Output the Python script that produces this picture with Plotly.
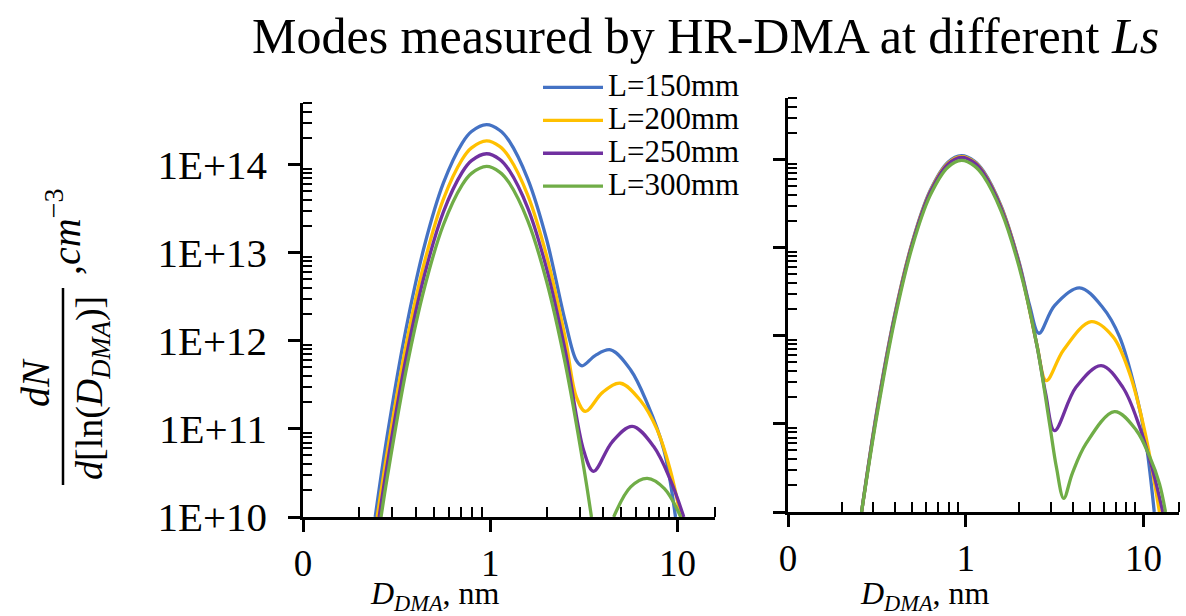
import plotly.graph_objects as go

W, H = 1186, 616

names = ["L=150mm", "L=200mm", "L=250mm", "L=300mm"]
colors = ["#4472C4", "#FFC000", "#7030A0", "#70AD47"]

# ---- left panel data (D_DMA in nm, dN/dlnD in cm^-3) ----
left_x_150 = [0.243, 0.282, 0.355, 0.447, 0.562, 0.708, 0.794, 0.955, 1.122, 1.259, 1.585, 1.995, 2.512, 2.88, 3.09, 3.63, 4.39, 5.61, 6.89, 8.45, 9.75]
left_y_150 = [1e10, 8.5e10, 1.37e12, 1.24e13, 6.2e13, 1.76e14, 2.38e14, 2.85e14, 2.46e14, 1.87e14, 6.9e13, 1.44e13, 1.67e12, 6.0e11, 5.2e11, 6.8e11, 7.9e11, 4.7e11, 1.95e11, 5.8e10, 1e10]
left_x_200 = [0.249, 0.282, 0.355, 0.447, 0.562, 0.708, 0.794, 0.955, 1.122, 1.259, 1.585, 1.995, 2.512, 2.884, 3.22, 3.98, 4.95, 6.34, 7.78, 9.12, 10.4]
left_y_200 = [1e10, 5.5e10, 8.9e11, 8.05e12, 4.07e13, 1.15e14, 1.55e14, 1.86e14, 1.61e14, 1.22e14, 4.52e13, 9.4e12, 1.09e12, 2.3e11, 1.58e11, 2.6e11, 3.3e11, 2.1e11, 9.8e10, 3.5e10, 1e10]
left_x_250 = [0.255, 0.282, 0.355, 0.447, 0.562, 0.708, 0.794, 0.955, 1.122, 1.259, 1.585, 1.995, 2.512, 3.16, 3.56, 4.47, 5.73, 7.46, 9.18, 10.8]
left_y_250 = [1e10, 4.0e10, 6.4e11, 5.77e12, 2.91e13, 8.2e13, 1.11e14, 1.33e14, 1.15e14, 8.7e13, 3.24e13, 6.7e12, 7.8e11, 5.6e10, 3.3e10, 7.1e10, 1.07e11, 6.3e10, 2.6e10, 1e10]
left_x_300 = [0.261, 0.282, 0.355, 0.447, 0.562, 0.708, 0.794, 0.955, 1.122, 1.259, 1.585, 1.995, 2.512, 3.16, 3.47, None, 4.56, 5.62, 6.89, 8.51, 10.4]
left_y_300 = [1e10, 2.84e10, 4.58e11, 4.13e12, 2.08e13, 5.89e13, 7.96e13, 9.55e13, 8.24e13, 6.25e13, 2.32e13, 4.81e12, 5.58e11, 3.6e10, 1e10, None, 1e10, 2.2e10, 2.75e10, 2.1e10, 1e10]

# ---- right panel data ----
right_x_150 = [0.2594, 0.316, 0.398, 0.501, 0.631, 0.794, 0.946, 1.122, 1.259, 1.585, 1.995, 2.29, 2.58, 3.16, 4.37, 5.9, 7.33, 9.1, 10.35, 11.5]
right_y_150 = [1e10, 1.4e11, 1.72e12, 1.17e13, 4.46e13, 9.35e13, 1.11e14, 9.6e13, 7.4e13, 2.94e13, 6.9e12, 2.2e12, 1.07e12, 2.2e12, 3.5e12, 2.1e12, 9.8e11, 2.2e11, 6e10, 1e10]
right_x_200 = [0.2594, 0.316, 0.398, 0.501, 0.631, 0.794, 0.946, 1.122, 1.259, 1.585, 1.995, 2.512, 2.84, 3.55, 5.08, 6.73, 8.34, 10.14, 12.3]
right_y_200 = [1e10, 1.36e11, 1.68e12, 1.15e13, 4.36e13, 9.1e13, 1.08e14, 9.4e13, 7.2e13, 2.87e13, 6.7e12, 8.0e11, 3.1e11, 6.9e11, 1.45e12, 9.8e11, 3.8e11, 8.5e10, 1e10]
right_x_250 = [0.2594, 0.316, 0.398, 0.501, 0.631, 0.794, 0.946, 1.122, 1.259, 1.585, 1.995, 2.512, 2.818, 3.16, 4.17, 5.78, 7.66, 9.51, 11.27, 12.85]
right_y_250 = [1e10, 1.33e11, 1.64e12, 1.12e13, 4.26e13, 8.9e13, 1.06e14, 9.2e13, 7.05e13, 2.8e13, 6.6e12, 7.9e11, 2.2e11, 8.4e10, 2.6e11, 4.6e11, 2.6e11, 9.3e10, 3.0e10, 1e10]
right_x_300 = [0.2594, 0.316, 0.398, 0.501, 0.631, 0.794, 0.946, 1.122, 1.259, 1.585, 1.995, 2.512, 2.965, 3.24, 3.56, 3.98, 4.76, 6.87, 9.1, 10.81, 12.3, 13.3]
right_y_300 = [1e10, 1.23e11, 1.51e12, 1.04e13, 3.93e13, 8.2e13, 9.8e13, 8.45e13, 6.5e13, 2.59e13, 6.1e12, 7.9e11, 1.0e11, 3.2e10, 1.43e10, 2.75e10, 6.0e10, 1.38e11, 8.5e10, 4.3e10, 2.1e10, 1e10]

x_tick_vals = [0.1, 1, 10]
x_tick_text = ["0", "1", "10"]
x_minor_vals = [0.2, 0.3, 0.4, 0.5, 0.6, 0.7, 0.8, 0.9, 2, 3, 4, 5, 6, 7, 8, 9, 15.8]
y_tick_vals = [1e10, 1e11, 1e12, 1e13, 1e14]
y_tick_text = ["1E+10", "1E+11", "1E+12", "1E+13", "1E+14"]
y_minor_vals = [m * 10 ** k for k in range(10, 15) for m in range(2, 10) if m * 10 ** k <= 5e14]

left_x = [left_x_150, left_x_200, left_x_250, left_x_300]
left_y = [left_y_150, left_y_200, left_y_250, left_y_300]
right_x = [right_x_150, right_x_200, right_x_250, right_x_300]
right_y = [right_y_150, right_y_200, right_y_250, right_y_300]

SERIF = "Liberation Serif"

fig = go.Figure()
for i in range(4):
    fig.add_trace(go.Scatter(
        x=left_x[i], y=left_y[i], mode="lines",
        name='<span style="font-size:31px">' + names[i] + "</span>",
        line=dict(color=colors[i], width=3.3, shape="spline", smoothing=1.0),
        xaxis="x", yaxis="y", legendgroup=names[i], connectgaps=False,
    ))
for i in range(4):
    fig.add_trace(go.Scatter(
        x=right_x[i], y=right_y[i], mode="lines", name=names[i],
        line=dict(color=colors[i], width=3.3, shape="spline", smoothing=1.0),
        xaxis="x2", yaxis="y2", legendgroup=names[i], showlegend=False,
    ))

LX = [303 / W, 715 / W]
RX = [788 / W, 1179 / W]
LY = [1 - 517 / H, 1 - 103 / H]
RY = [1 - 512 / H, 1 - 98 / H]

def xax(domain, anchor, **kw):
    d = dict(
        type="log", range=[-1, 1.2], domain=domain, anchor=anchor, automargin=False,
        tickmode="array", tickvals=x_tick_vals, ticktext=x_tick_text,
        ticks="outside", ticklen=12, tickwidth=2.5, tickcolor="black",
        showline=True, linecolor="black", linewidth=2.5,
        showgrid=False, zeroline=False,
        tickfont=dict(family=SERIF, size=37, color="black"),
        ticklabelstandoff=0,
        minor=dict(tickmode="array", tickvals=x_minor_vals, ticks="inside",
                   ticklen=10, tickwidth=2, tickcolor="black", showgrid=False),
    )
    d.update(kw)
    return d

def yax(domain, anchor, labels, **kw):
    d = dict(
        type="log", range=[10, 14.70], domain=domain, anchor=anchor, automargin=False,
        tickmode="array", tickvals=y_tick_vals, ticktext=y_tick_text,
        showticklabels=labels,
        ticks="outside", ticklen=12, tickwidth=2.5, tickcolor="black",
        showline=True, linecolor="black", linewidth=2.5,
        showgrid=False, zeroline=False,
        tickfont=dict(family=SERIF, size=41, color="black"),
        ticklabelstandoff=13,
        minor=dict(tickmode="array", tickvals=y_minor_vals, ticks="inside",
                   ticklen=9, tickwidth=2, tickcolor="black", showgrid=False),
    )
    d.update(kw)
    return d

def x_inner(over, anchor, domain):
    return dict(type="log", range=[-1, 1.2], overlaying=over, anchor=anchor, domain=domain,
                automargin=False,
                tickmode="array", tickvals=x_tick_vals, ticks="inside", ticklen=12,
                tickwidth=2.5, tickcolor="black", showticklabels=False,
                showline=False, showgrid=False, zeroline=False)

def y_inner(over, anchor, domain):
    return dict(type="log", range=[10, 14.70], overlaying=over, anchor=anchor, domain=domain,
                automargin=False,
                tickmode="array", tickvals=y_tick_vals, ticks="inside", ticklen=12,
                tickwidth=2.5, tickcolor="black", showticklabels=False,
                showline=False, showgrid=False, zeroline=False)

fig.update_layout(
    width=W, height=H, autosize=False,
    margin=dict(l=0, r=0, t=0, b=0, pad=0, autoexpand=False),
    paper_bgcolor="white", plot_bgcolor="white",
    font=dict(family=SERIF, color="black"),
    xaxis=xax(LX, "y"),
    yaxis=yax(LY, "x", True),
    xaxis2=xax(RX, "y2"),
    yaxis2=yax(RY, "x2", False),
    xaxis3=x_inner("x", "y", LX),
    yaxis3=y_inner("y", "x", LY),
    xaxis4=x_inner("x2", "y2", RX),
    yaxis4=y_inner("y2", "x2", RY),
    showlegend=True,
    legend=dict(
        x=538 / W, xanchor="left", y=1 - 66 / H, yanchor="top",
        font=dict(family=SERIF, size=23, color="black"),
        bgcolor="rgba(0,0,0,0)", itemwidth=60, tracegroupgap=0,
    ),
)

annotations = [
    dict(text="Modes measured by HR-DMA at different <i>Ls</i>", x=705 / W, y=1 - 36 / H,
         xref="paper", yref="paper", xanchor="center", yanchor="middle", showarrow=False,
         font=dict(family=SERIF, size=50, color="black")),
    dict(text="<i>D</i><sub><i>DMA</i></sub>, nm", x=435 / W, y=1 - 595 / H,
         xref="paper", yref="paper", xanchor="center", yanchor="middle", showarrow=False,
         font=dict(family=SERIF, size=32, color="black")),
    dict(text="<i>D</i><sub><i>DMA</i></sub>, nm", x=925 / W, y=1 - 595 / H,
         xref="paper", yref="paper", xanchor="center", yanchor="middle", showarrow=False,
         font=dict(family=SERIF, size=32, color="black")),
    dict(text="<i>dN</i>", x=35 / W, y=1 - 383 / H, textangle=-90,
         xref="paper", yref="paper", xanchor="center", yanchor="middle", showarrow=False,
         font=dict(family=SERIF, size=40, color="black")),
    dict(text="<i>d</i>[ln(<i>D</i><sub><i>DMA</i></sub>)]", x=92 / W, y=1 - 388 / H, textangle=-90,
         xref="paper", yref="paper", xanchor="center", yanchor="middle", showarrow=False,
         font=dict(family=SERIF, size=38, color="black")),
    dict(text=",<i>cm</i><sup>\u22123</sup>", x=63 / W, y=1 - 232 / H, textangle=-90,
         xref="paper", yref="paper", xanchor="center", yanchor="middle", showarrow=False,
         font=dict(family=SERIF, size=40, color="black")),
]
fig.update_layout(annotations=annotations)
fig.add_shape(type="line", xref="paper", yref="paper",
              x0=63 / W, x1=63 / W, y0=1 - 288 / H, y1=1 - 485 / H,
              line=dict(color="black", width=2.5))

fig.write_html("out.html", config={"displayModeBar": False},
               post_script="document.body.style.margin='0';document.body.style.overflow='hidden';")
